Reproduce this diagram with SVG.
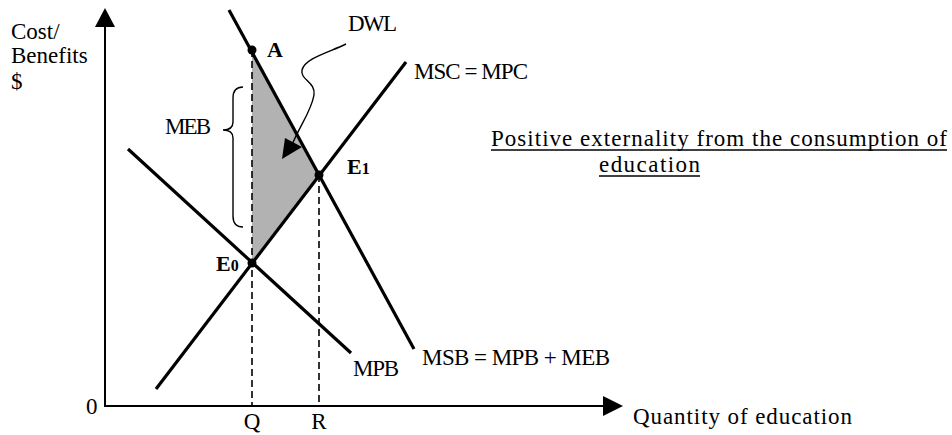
<svg xmlns="http://www.w3.org/2000/svg" width="952" height="435" viewBox="0 0 952 435">
<style>
text{font-family:"Liberation Serif","Times New Roman",serif;font-size:23px;fill:#000}
.b{font-weight:bold;font-size:22px}
.curve{stroke:#000;stroke-width:3.2;fill:none}
.axis{stroke:#000;stroke-width:2;fill:none}
.dash{stroke:#000;stroke-width:1.6;stroke-dasharray:7,4;fill:none}
.thin{stroke:#000;stroke-width:1.4;fill:none}
</style>
<rect width="952" height="435" fill="#fff"/>
<g id="dwl-area"><polygon points="252,50 319,175 252,263" fill="#b2b2b2"/></g>
<g id="connectors">
  <line class="dash" x1="252" y1="50" x2="252" y2="406"/>
  <line class="dash" x1="319" y1="175" x2="319" y2="406"/>
  <line class="axis" x1="105" y1="26" x2="105" y2="406"/>
  <polygon points="105,8 95,27 115,27"/>
  <line class="axis" x1="104" y1="406" x2="604" y2="406"/>
  <polygon points="623,406 603,396 603,416"/>
  <line class="curve" x1="229" y1="10" x2="414" y2="349"/>
  <line class="curve" x1="156" y1="389" x2="406" y2="62"/>
  <line class="curve" x1="128" y1="149" x2="351" y2="353"/>
  <path class="thin" d="M346,44 C330,52 305,58 302,70 C300,80 316,82 314,95 C311,112 300,125 292,145"/>
  <polygon points="282,159 285,138 302,147"/>
  <path class="thin" d="M243,87 Q233,87 233,98 L233,122 Q233,130 223,130 Q233,130 233,138 L233,216 Q233,227 243,227"/>
</g>
<g id="point-A"><circle cx="252" cy="50" r="4.5"/><text class="b" x="267" y="57">A</text></g>
<g id="point-E1"><circle cx="319" cy="175" r="4.5"/><text class="b" x="347" y="174">E<tspan font-size="16">1</tspan></text></g>
<g id="point-E0"><circle cx="252" cy="263" r="4.5"/><text class="b" x="216" y="271">E<tspan font-size="16">0</tspan></text></g>
<g id="labels">
  <text x="11" y="39">Cost/</text>
  <text x="11" y="63">Benefits</text>
  <text x="11" y="89">$</text>
  <text x="165" y="134" textLength="46">MEB</text>
  <text x="348" y="31" textLength="49">DWL</text>
  <text x="414" y="79" textLength="114">MSC = MPC</text>
  <text x="491" y="146" textLength="456">Positive externality from the consumption of</text>
  <line x1="491" y1="150" x2="947" y2="150" stroke="#000" stroke-width="1.3"/>
  <text x="599" y="172" textLength="101">education</text>
  <line x1="599" y1="176" x2="700" y2="176" stroke="#000" stroke-width="1.3"/>
  <text x="353" y="376" textLength="46">MPB</text>
  <text x="422" y="365" textLength="188">MSB = MPB + MEB</text>
  <text x="633" y="424" textLength="219">Quantity of education</text>
  <text x="86" y="414">0</text>
  <text x="252" y="429" text-anchor="middle">Q</text>
  <text x="319" y="429" text-anchor="middle">R</text>
</g>
</svg>
